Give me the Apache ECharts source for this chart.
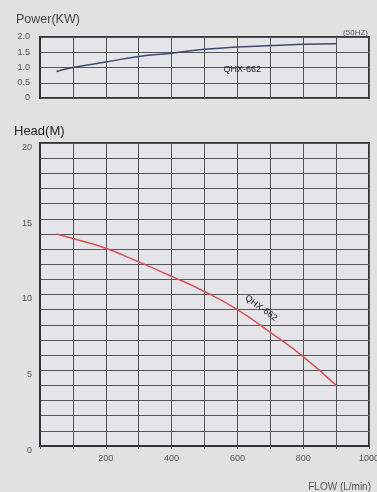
<!DOCTYPE html>
<html>
<head>
<meta charset="utf-8">
<script src="https://cdn.jsdelivr.net/npm/echarts@6/dist/echarts.min.js"></script>
<style>
html,body{margin:0;padding:0;background:#e1e1e1;}
#c{width:377px;height:492px;}
</style>
</head>
<body>
<div id="c"></div>
<script>
const flow = [50, 100, 200, 300, 400, 500, 600, 700, 800, 900];
const power = [0.87, 1.0, 1.18, 1.36, 1.47, 1.6, 1.67, 1.72, 1.76, 1.78];
const head = [14, 13.7, 13.05, 12.15, 11.2, 10.2, 9, 7.5, 5.9, 4];
const modelName = 'QHX-662';
const powerTicks = ['0', '0.5', '1.0', '1.5', '2.0'];

const chart = echarts.init(document.getElementById('c'));
const txt = {fontFamily: 'Liberation Sans, Arial, sans-serif'};
const gridLine = {show: true, lineStyle: {color: '#555', width: 1}};
chart.setOption({
  backgroundColor: '#e1e1e1',
  animation: false,
  title: [
    {text: 'Power(KW)', left: 11, top: 8, textStyle: Object.assign({fontSize: 12.5, fontWeight: 'normal', color: '#444'}, txt)},
    {text: '(50HZ)', right: 4, top: 24, textStyle: Object.assign({fontSize: 8, fontWeight: 'normal', color: '#555'}, txt)},
    {text: 'Head(M)', left: 9, top: 120, textStyle: Object.assign({fontSize: 13, fontWeight: 'normal', color: '#222'}, txt)},
    {text: 'FLOW (L/min)', right: 1, top: 477, textStyle: Object.assign({fontSize: 10, fontWeight: 'normal', color: '#555'}, txt)}
  ],
  grid: [
    {left: 40, right: 8, top: 37, height: 61, show: true, backgroundColor: '#e5e5e9', borderColor: '#333', borderWidth: 2, outerBoundsMode: 'none', containLabel: false},
    {left: 40, right: 8, top: 143, height: 303, show: true, backgroundColor: '#e5e5e9', borderColor: '#333', borderWidth: 2, outerBoundsMode: 'none', containLabel: false}
  ],
  xAxis: [
    {gridIndex: 0, type: 'value', min: 0, max: 1000, interval: 100,
     axisLine: {show: false}, axisTick: {show: false}, axisLabel: {show: false}, splitLine: gridLine},
    {gridIndex: 1, type: 'value', min: 0, max: 1000, interval: 100,
     axisLine: {show: true, lineStyle: {color: '#333', width: 2}},
     axisTick: {show: true, length: 3, lineStyle: {color: '#555'}},
     axisLabel: Object.assign({fontSize: 9, color: '#555', margin: 8,
       formatter: v => (v > 0 && v % 200 === 0) ? String(v) : ''}, txt),
     splitLine: gridLine}
  ],
  yAxis: [
    {gridIndex: 0, type: 'value', min: 0, max: 2, interval: 0.5,
     axisLine: {show: true, lineStyle: {color: '#333', width: 2}}, axisTick: {show: false},
     axisLabel: Object.assign({fontSize: 9, color: '#555', margin: 10,
       formatter: v => powerTicks[Math.round(v * 2)]}, txt),
     splitLine: gridLine},
    {gridIndex: 1, type: 'value', min: 0, max: 20, interval: 1,
     axisLine: {show: true, lineStyle: {color: '#333', width: 2}}, axisTick: {show: false},
     axisLabel: Object.assign({fontSize: 9, color: '#555', margin: 8, verticalAlign: 'top',
       formatter: v => (v % 5 === 0) ? String(v) : ''}, txt),
     splitLine: gridLine}
  ],
  series: [
    {type: 'line', xAxisIndex: 0, yAxisIndex: 0, data: flow.map((f, i) => [f, power[i]]),
     smooth: true, symbol: 'none', lineStyle: {color: '#3c4878', width: 1.5},
     markPoint: {symbol: 'circle', symbolSize: 1, itemStyle: {color: 'rgba(0,0,0,0)'},
       data: [{coord: [615, 0.93], value: 1}],
       label: Object.assign({show: true, position: 'inside', formatter: modelName, fontSize: 9, color: '#222'}, txt)}},
    {type: 'line', xAxisIndex: 1, yAxisIndex: 1, data: flow.map((f, i) => [f, head[i]]),
     smooth: true, symbol: 'none', lineStyle: {color: '#dd5050', width: 1.5},
     markPoint: {symbol: 'circle', symbolSize: 1, itemStyle: {color: 'rgba(0,0,0,0)'},
       data: [{coord: [672, 9.1], value: 1}],
       label: Object.assign({show: true, position: 'inside', formatter: modelName, fontSize: 9, color: '#222', rotate: -36}, txt)}}
  ]
});
</script>
</body>
</html>
